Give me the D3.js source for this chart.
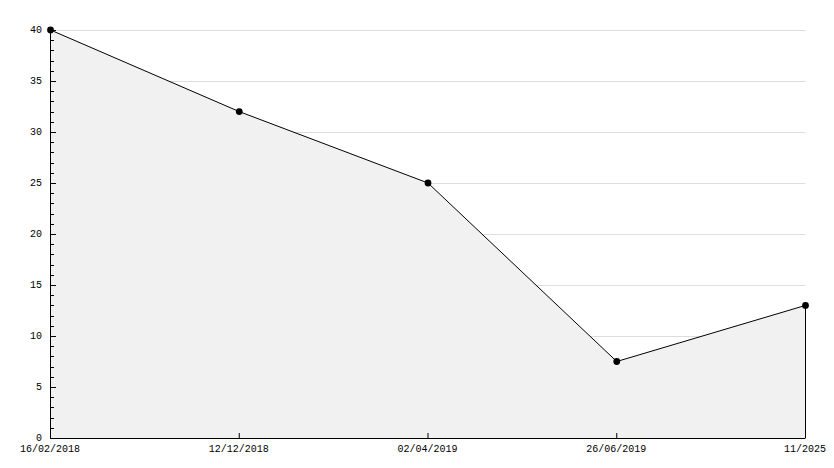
<!DOCTYPE html>
<meta charset="utf-8">
<style>
body { margin: 0; background: #fff; }
.axis text { font: 10px "Liberation Mono", "DejaVu Sans Mono", monospace; fill: #000; }
.grid line { stroke: #dddddd; stroke-width: 1px; }
.area { fill: #f1f1f1; stroke: none; }
.line { fill: none; stroke: #000; stroke-width: 1px; }
</style>
<svg width="834" height="468"></svg>
<script src="https://d3js.org/d3.v7.min.js"></script>
<script>
// chart data
var dates = ["16/02/2018", "12/12/2018", "02/04/2019", "26/06/2019", "11/2025"];
var values = [40, 32, 25, 7.5, 13];
var yTicks = [0, 5, 10, 15, 20, 25, 30, 35, 40];

var svg = d3.select("svg"),
    margin = {top: 30, right: 29, bottom: 30, left: 50},
    width = svg.attr("width") - margin.left - margin.right,
    height = svg.attr("height") - margin.top - margin.bottom,
    g = svg.append("g").attr("transform", "translate(" + margin.left + "," + margin.top + ")");

var x = d3.scalePoint().domain(d3.range(dates.length)).range([0, width]),
    y = d3.scaleLinear().domain([0, 40]).range([height, 0]);

var data = values.map(function(v, i) { return {i: i, v: v}; });

// grid lines
g.append("g")
    .attr("class", "grid")
  .selectAll("line")
    .data(yTicks.filter(function(d) { return d > 0; }))
  .enter().append("line")
    .attr("x1", 0.5)
    .attr("x2", width + 0.5)
    .attr("y1", function(d) { return Math.round(y(d)) + 0.5; })
    .attr("y2", function(d) { return Math.round(y(d)) + 0.5; });

// area under the line
var area = d3.area()
    .x(function(d) { return x(d.i) + 0.5; })
    .y0(height)
    .y1(function(d) { return y(d.v); });

g.append("path")
    .datum(data)
    .attr("class", "area")
    .attr("d", area);

var line = d3.line()
    .x(function(d) { return x(d.i) + 0.5; })
    .y(function(d) { return y(d.v); });

g.append("path")
    .datum(data)
    .attr("class", "line")
    .attr("d", line);

// right edge of the area
g.append("line")
    .attr("x1", x(dates.length - 1) + 0.5)
    .attr("x2", x(dates.length - 1) + 0.5)
    .attr("y1", y(values[values.length - 1]))
    .attr("y2", height)
    .attr("stroke", "#000");

// y axis: labelled major ticks, minor ticks every 1
var yAxis = g.append("g").attr("class", "axis axis--y");
yAxis.append("line")
    .attr("x1", 0.5).attr("x2", 0.5)
    .attr("y1", 0).attr("y2", height + 0.5)
    .attr("stroke", "#000");
yAxis.selectAll(".minor")
    .data(d3.range(0, 41))
  .enter().append("line")
    .attr("x1", 0.5)
    .attr("x2", function(d) { return d % 5 === 0 ? 6 : 4; })
    .attr("y1", function(d) { return Math.round(y(d)) + 0.5; })
    .attr("y2", function(d) { return Math.round(y(d)) + 0.5; })
    .attr("stroke", "#000");
yAxis.selectAll("text")
    .data(yTicks)
  .enter().append("text")
    .attr("x", -8)
    .attr("y", function(d) { return y(d); })
    .attr("dy", "0.32em")
    .attr("text-anchor", "end")
    .text(function(d) { return d; });

// x axis
var xAxis = g.append("g").attr("class", "axis axis--x")
    .attr("transform", "translate(0," + height + ")");
xAxis.append("line")
    .attr("x1", 0).attr("x2", width + 0.5)
    .attr("y1", 0.5).attr("y2", 0.5)
    .attr("stroke", "#000");
xAxis.selectAll(".tick")
    .data(d3.range(1, dates.length - 1))
  .enter().append("line")
    .attr("x1", function(d) { return x(d) + 0.5; })
    .attr("x2", function(d) { return x(d) + 0.5; })
    .attr("y1", 0).attr("y2", -5)
    .attr("stroke", "#000");
xAxis.selectAll("text")
    .data(dates)
  .enter().append("text")
    .attr("x", function(d, i) { return x(i); })
    .attr("y", 14)
    .attr("text-anchor", "middle")
    .text(function(d) { return d; });

// markers
g.selectAll(".point")
    .data(data)
  .enter().append("path")
    .attr("class", "point")
    .attr("transform", function(d) { return "translate(" + (x(d.i) + 0.5) + "," + y(d.v) + ")"; })
    .attr("d", d3.symbol().type(d3.symbolCircle).size(36))
    .attr("fill", "#000");
</script>
